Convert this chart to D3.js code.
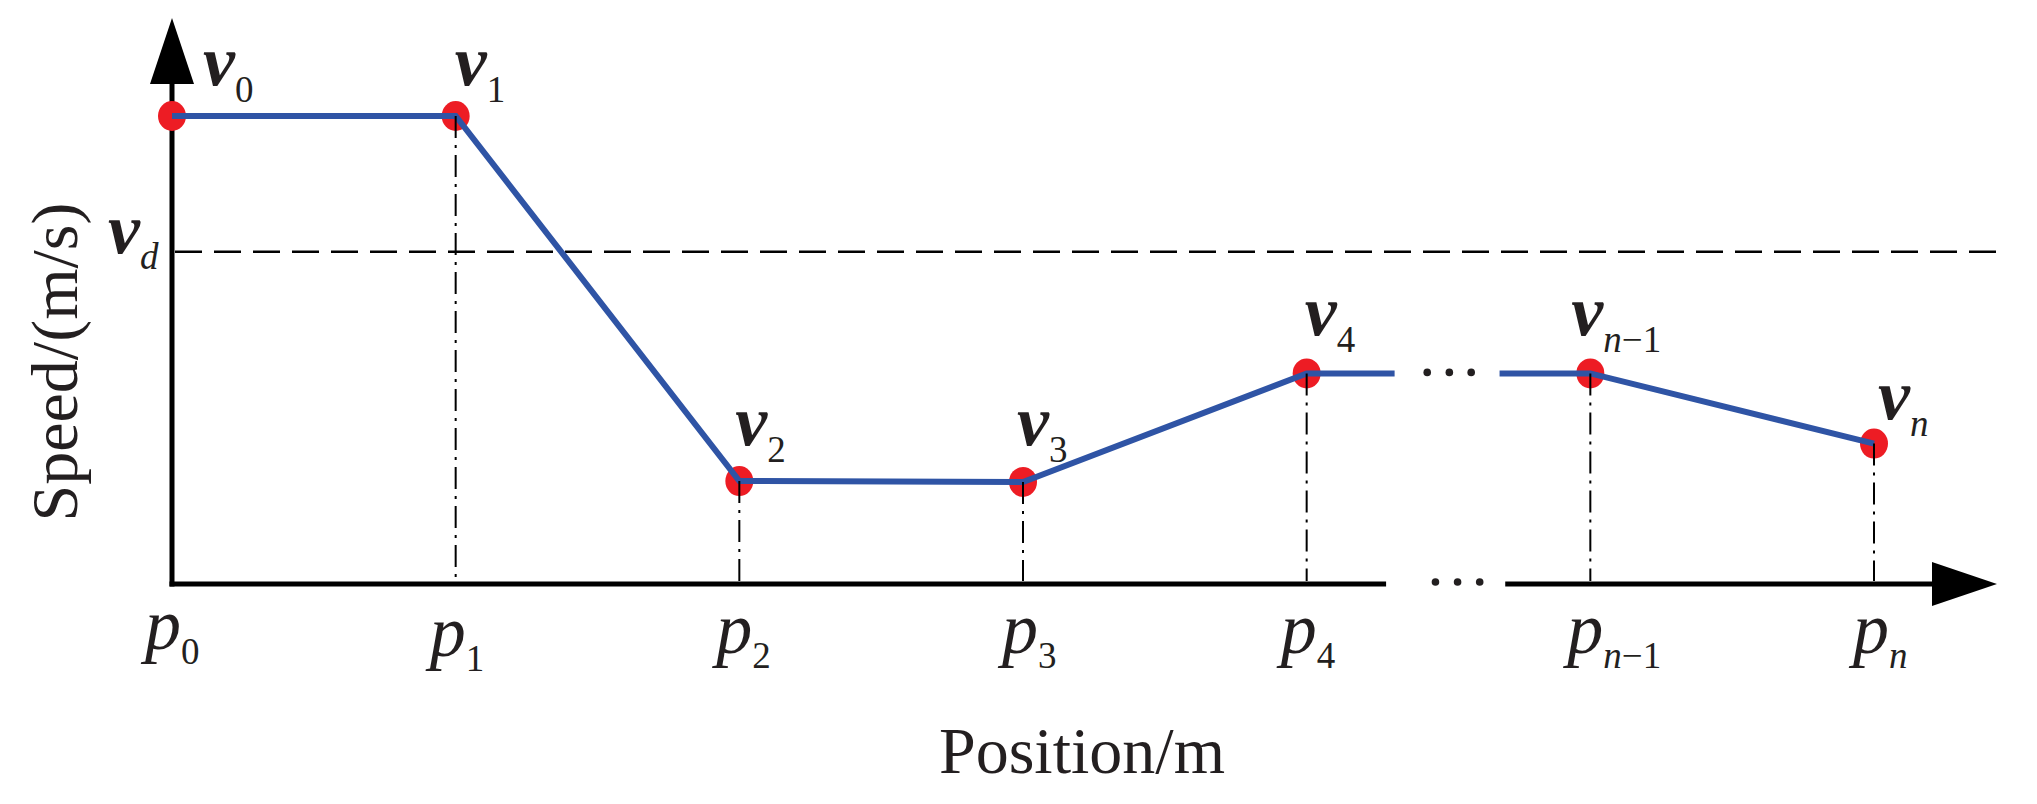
<!DOCTYPE html>
<html>
<head>
<meta charset="utf-8">
<script src="https://cdn.jsdelivr.net/npm/d3@7"></script>
<style>
body{ margin:0; background:#fff; }
text{ font-family:"Liberation Serif","Times New Roman",serif; fill:#231f20; }
</style>
</head>
<body>
<div id="chart"></div>
<script>
//Node index along the track, p0 ... pn
var positions = [0, 1, 2, 3, 4, 5, 6];
//Subscripts of p_i and v_i
var nodeSubs = ["0", "1", "2", "3", "4", "n\u22121", "n"];
//Speed at each node (no units on the picture, read off by eye)
var speeds = [10, 10, 2.2, 2.18, 4.5, 4.5, 3.0];
//Desired speed v_d
var desiredSpeed = 7.1;
//Where the curve and the axis are broken between p4 and p(n-1)
var curveBreak = [4.31, 4.68];
var axisBreak = [4.28, 4.70];
var curveDots = [4.425, 4.503, 4.58];
var axisDots = [4.454, 4.532, 4.61];
var axisTitles = ["Position/m", "Speed/(m/s)"];

var width = 2037;
var height = 804;
var titleSize = 66;
var labelSize = 72;
var subSize = 37;

//Label nudges in px: [dx, dy] from the node
var vNudge = [[31,-31],[-1,-31],[-4,-36],[-6,-37],[-2,-38],[-19,-38],[4,-25]];
var pNudge = [[-27,-4],[-26,3],[-23,0],[-21,0],[-26,0],[-23,0],[-21,0]];

var x = d3.scaleLinear().domain([0, 6]).range([172, 1874]);
var y = d3.scaleLinear().domain([0, 10]).range([584, 116]);

var svg = d3.select("#chart")
    .append("svg")
    .attr("width", width)
    .attr("height", height)
    .style("display", "block")
    .style("background", "#fff");

var x0 = x(0), yBase = y(0);
var xTip = 1997, yTip = 18;

//Desired speed line
svg.append("line")
    .attr("x1", x0 + 3).attr("x2", xTip)
    .attr("y1", y(desiredSpeed)).attr("y2", y(desiredSpeed))
    .attr("stroke", "#000")
    .attr("stroke-width", 2.5)
    .attr("stroke-dasharray", "27,12");

//Axes
svg.append("line")
    .attr("x1", x0).attr("x2", x0)
    .attr("y1", yBase + 2.5).attr("y2", yTip + 60)
    .attr("stroke", "#000").attr("stroke-width", 5);
svg.append("path")
    .attr("d", "M" + x0 + "," + yTip + "L" + (x0 - 22) + "," + (yTip + 66) + "L" + (x0 + 22) + "," + (yTip + 66) + "Z")
    .attr("fill", "#000");

svg.append("line")
    .attr("x1", x0 - 2.5).attr("x2", x(axisBreak[0]))
    .attr("y1", yBase).attr("y2", yBase)
    .attr("stroke", "#000").attr("stroke-width", 5);
svg.append("line")
    .attr("x1", x(axisBreak[1])).attr("x2", xTip - 60)
    .attr("y1", yBase).attr("y2", yBase)
    .attr("stroke", "#000").attr("stroke-width", 5);
svg.append("path")
    .attr("d", "M" + xTip + "," + yBase + "L" + (xTip - 65) + "," + (yBase - 22) + "L" + (xTip - 65) + "," + (yBase + 22) + "Z")
    .attr("fill", "#000");

svg.selectAll(".axisDot")
    .data(axisDots)
    .enter().append("circle")
    .attr("cx", function(d){ return x(d); })
    .attr("cy", yBase - 2)
    .attr("r", 3.8)
    .attr("fill", "#231f20");

//Nodes
var nodes = positions.map(function(p, i){
    return { pos: p, speed: speeds[i], sub: nodeSubs[i] };
});

svg.selectAll(".node")
    .data(nodes)
    .enter().append("ellipse")
    .attr("cx", function(d){ return x(d.pos); })
    .attr("cy", function(d){ return y(d.speed); })
    .attr("rx", 14)
    .attr("ry", 15)
    .attr("fill", "#ed1c24");

//Speed curve, broken by the ellipsis
var curveData = [];
nodes.forEach(function(d){
    if( d.pos === 5 ){
        curveData.push({ pos: curveBreak[0], speed: speeds[4] });
        curveData.push(null);
        curveData.push({ pos: curveBreak[1], speed: speeds[4] });
    }
    curveData.push(d);
});

var line = d3.line()
    .defined(function(d){ return d !== null; })
    .x(function(d){ return x(d.pos); })
    .y(function(d){ return y(d.speed); });

svg.append("path")
    .datum(curveData)
    .attr("d", line)
    .attr("fill", "none")
    .attr("stroke", "#2f54a5")
    .attr("stroke-width", 6)
    .attr("stroke-linejoin", "miter");

svg.selectAll(".curveDot")
    .data(curveDots)
    .enter().append("circle")
    .attr("cx", function(d){ return x(d); })
    .attr("cy", y(speeds[4]) - 1)
    .attr("r", 3.8)
    .attr("fill", "#231f20");

//Drop lines from each node to the position axis
svg.selectAll(".drop")
    .data(nodes.slice(1))
    .enter().append("line")
    .attr("x1", function(d){ return x(d.pos); })
    .attr("x2", function(d){ return x(d.pos); })
    .attr("y1", function(d){ return y(d.speed); })
    .attr("y2", yBase - 3)
    .attr("stroke", "#000")
    .attr("stroke-width", 2)
    .attr("stroke-dasharray", "22,7,3,7");

//Text with a subscript, e.g. v_{n-1}
function subText( g, tx, ty, main, sub, bold, shift ){
    var t = g.append("text")
        .attr("x", tx)
        .attr("y", ty)
        .style("font-size", labelSize + "px");
    t.append("tspan")
        .text(main)
        .style("font-style", "italic")
        .style("font-weight", bold ? "bold" : "normal");
    var head = sub.charAt(0);
    var parts = ( head === "n" || head === "d" ) ? [head, sub.slice(1)] : ["", sub];
    var first = true;
    parts.forEach(function( s, i ){
        if( !s ) return;
        var ts = t.append("tspan")
            .text(s)
            .style("font-size", subSize + "px")
            .style("font-style", i === 0 ? "italic" : "normal");
        if( first ){
            ts.attr("dy", shift);
            first = false;
        }
    });
    return t;
}

nodes.forEach(function( d, i ){
    subText(svg, x(d.pos) + vNudge[i][0], y(d.speed) + vNudge[i][1], "v", d.sub, true, 17);
    subText(svg, x(d.pos) + pNudge[i][0], 653 + pNudge[i][1], "p", d.sub, false, 15);
});

subText(svg, 108, y(desiredSpeed) + 1, "v", "d", true, 16);

//Axis titles
svg.append("text")
    .attr("x", 1082)
    .attr("y", 773)
    .attr("text-anchor", "middle")
    .style("font-size", titleSize + "px")
    .text(axisTitles[0]);

svg.append("text")
    .attr("transform", "translate(77,362) rotate(-90)")
    .attr("text-anchor", "middle")
    .style("font-size", titleSize + "px")
    .text(axisTitles[1]);
</script>
</body>
</html>
